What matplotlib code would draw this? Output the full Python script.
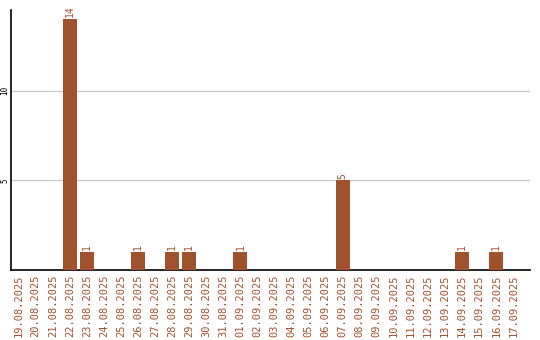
import numpy as np
import pandas as pd
import matplotlib
matplotlib.use("Agg")
import matplotlib.pyplot as plt

dates = pd.date_range("2025-08-19", "2025-09-17", freq="D")
labels = [d.strftime("%d.%m.%Y") for d in dates]
counts = {"22.08.2025": 14, "23.08.2025": 1, "26.08.2025": 1, "28.08.2025": 1,
          "29.08.2025": 1, "01.09.2025": 1, "07.09.2025": 5, "14.09.2025": 1,
          "16.09.2025": 1}
values = [counts.get(l, 0) for l in labels]

color = "#A0522D"

fig = plt.figure(figsize=(5.4, 3.4), dpi=100)
ax = fig.add_axes([11 / 540, 70 / 340, 519 / 540, 260 / 340])

x = np.arange(len(labels))
bars = ax.bar(x, values, width=0.82, color=color, zorder=3)
for xi, v in zip(x, values):
    if v:
        ax.text(xi, v + 0.1, str(v), rotation=90, ha="center", va="bottom",
                color=color, fontsize=7, family="DejaVu Sans Mono")

ax.set_xlim(-0.45, 29.98)
ax.set_ylim(0, 14.5)
ax.set_yticks([5, 10])
ax.set_yticklabels(["5", "10"], rotation=90, va="center", fontsize=5.5,
                   family="DejaVu Sans Mono")
ax.set_xticks(x)
ax.set_xticklabels(labels, rotation=90, fontsize=7.5, color=color,
                   family="DejaVu Sans Mono")
ax.tick_params(length=0, pad=3)
ax.tick_params(axis="y", pad=1)
ax.grid(axis="y", color="#c8c8c8", linewidth=0.9, zorder=0)
for s in ["top", "right"]:
    ax.spines[s].set_visible(False)
ax.spines["left"].set_linewidth(1.2)
ax.spines["bottom"].set_linewidth(1.2)

fig.savefig("out.png", dpi=100)
